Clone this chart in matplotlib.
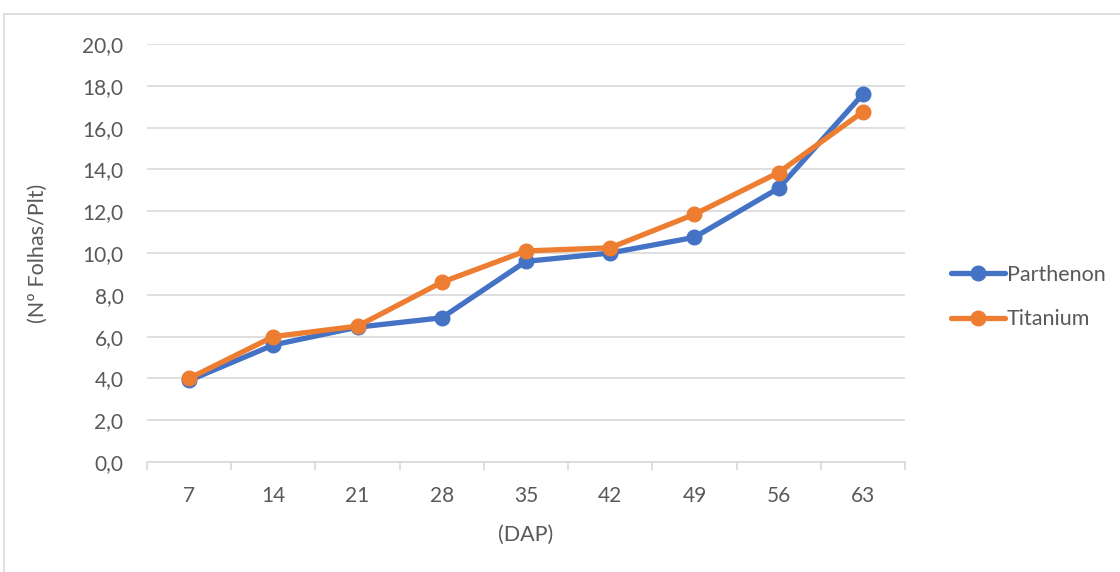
import matplotlib
matplotlib.use("Agg")
import matplotlib.pyplot as plt
from matplotlib.patches import Rectangle
from matplotlib.ticker import FuncFormatter, FixedLocator
import numpy as np

dap = [7, 14, 21, 28, 35, 42, 49, 56, 63]
parthenon = [3.9, 5.6, 6.45, 6.9, 9.6, 10.0, 10.75, 13.1, 17.6]
titanium = [4.0, 6.0, 6.5, 8.6, 10.1, 10.25, 11.85, 13.85, 16.75]
y_ticks = [0, 2, 4, 6, 8, 10, 12, 14, 16, 18, 20]

plt.rcParams['font.family'] = ['Lato', 'DejaVu Sans']
text_color = '#595959'
grid_color = '#D9D9D9'

fig = plt.figure(figsize=(11.2, 5.72), dpi=100)
ax = fig.add_axes([147 / 1120, 1 - 462 / 572, (905 - 147) / 1120, (462 - 44) / 572])

# outer chart frame
fig.add_artist(Rectangle((4 / 1120, -0.01), 1.02, 1 - 14 / 572 + 0.01,
                         transform=fig.transFigure, fill=False,
                         edgecolor=grid_color, lw=1.2))

x = np.arange(len(dap))
ax.plot(x, parthenon, color='#4472C4', lw=3.8, marker='o', ms=10.5,
        label='Parthenon', solid_capstyle='round', zorder=3)
ax.plot(x, titanium, color='#ED7D31', lw=3.8, marker='o', ms=10.5,
        label='Titanium', solid_capstyle='round', zorder=4)

ax.set_xlim(-0.5, len(dap) - 0.5)
ax.set_ylim(0, 20)
ax.set_yticks(y_ticks)
ax.yaxis.set_major_formatter(FuncFormatter(lambda v, p: f"{v:.1f}".replace('.', ',')))
ax.yaxis.grid(True, color=grid_color, lw=1.2)
ax.set_axisbelow(True)

ax.set_xticks(x)
ax.set_xticklabels([str(d) for d in dap])
ax.xaxis.set_minor_locator(FixedLocator(np.arange(-0.5, len(dap), 1.0)))
ax.tick_params(axis='x', which='major', length=0, pad=17, labelsize=15, colors=text_color)
ax.tick_params(axis='x', which='minor', length=6, width=1.2, color=grid_color, direction='out')
ax.tick_params(axis='y', length=0, pad=17, labelsize=15, colors=text_color)

for s in ['top', 'right', 'left']:
    ax.spines[s].set_visible(False)
ax.spines['bottom'].set_color(grid_color)
ax.spines['bottom'].set_linewidth(1.2)

ax.set_xlabel('(DAP)', fontsize=15.5, color=text_color, labelpad=14)
ax.set_ylabel('(Nº Folhas/Plt)', fontsize=15.5, color=text_color, labelpad=25)

leg = ax.legend(loc='center left', bbox_to_anchor=(1.035, 0.395), frameon=False,
                fontsize=15.5, labelspacing=1.15, handlelength=2.5, handletextpad=0.1,
                labelcolor=text_color)

fig.savefig('out.png', dpi=100)
